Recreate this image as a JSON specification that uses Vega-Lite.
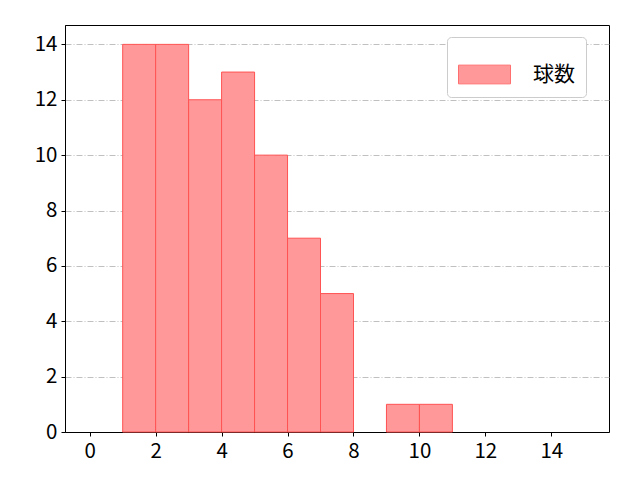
{
  "$schema": "https://vega.github.io/schema/vega-lite/v6.json",
  "width": 544,
  "height": 407,
  "autosize": "none",
  "padding": {"left": 65, "top": 25, "right": 31, "bottom": 48},
  "background": "white",
  "data": {
    "values": [
      {"bin_start": 1, "bin_end": 2, "count": 14, "series": "球数"},
      {"bin_start": 2, "bin_end": 3, "count": 14, "series": "球数"},
      {"bin_start": 3, "bin_end": 4, "count": 12, "series": "球数"},
      {"bin_start": 4, "bin_end": 5, "count": 13, "series": "球数"},
      {"bin_start": 5, "bin_end": 6, "count": 10, "series": "球数"},
      {"bin_start": 6, "bin_end": 7, "count": 7, "series": "球数"},
      {"bin_start": 7, "bin_end": 8, "count": 5, "series": "球数"},
      {"bin_start": 9, "bin_end": 10, "count": 1, "series": "球数"},
      {"bin_start": 10, "bin_end": 11, "count": 1, "series": "球数"}
    ]
  },
  "mark": {"type": "bar", "stroke": "#ff5252", "strokeWidth": 1},
  "encoding": {
    "x": {
      "field": "bin_start",
      "type": "quantitative",
      "title": null,
      "scale": {"domain": [-0.75, 15.75], "nice": false, "zero": false},
      "axis": {"values": [0, 2, 4, 6, 8, 10, 12, 14], "grid": false, "labelPadding": 5}
    },
    "x2": {"field": "bin_end"},
    "y": {
      "field": "count",
      "type": "quantitative",
      "title": null,
      "scale": {"domain": [0, 14.7], "nice": false},
      "axis": {
        "values": [0, 2, 4, 6, 8, 10, 12, 14],
        "grid": true,
        "gridColor": "#b0b0b0",
        "gridDash": [6, 2, 1, 2],
        "gridWidth": 0.8
      }
    },
    "y2": {"datum": 0},
    "color": {
      "field": "series",
      "type": "nominal",
      "scale": {"range": ["#ff9999"]},
      "legend": {
        "title": null,
        "orient": "none",
        "legendX": 382,
        "legendY": 12,
        "symbolType": "M-1,-0.36H1V0.36H-1Z",
        "symbolSize": 2704,
        "symbolStrokeColor": "#ff6f6f",
        "symbolStrokeWidth": 1,
        "symbolOpacity": 1,
        "labelOffset": 22,
        "labelFontSize": 21,
        "labelColor": "black",
        "padding": 11,
        "fillColor": "white",
        "strokeColor": "#cccccc",
        "cornerRadius": 4
      }
    }
  },
  "config": {
    "font": "Noto Sans CJK JP",
    "view": {"stroke": "black", "strokeWidth": 1},
    "axis": {
      "domainColor": "black",
      "tickColor": "black",
      "tickSize": 4,
      "labelFontSize": 20.5,
      "labelColor": "black",
      "labelPadding": 4,
      "labelFlush": false
    },
    "legend": {"labelFont": "Noto Sans CJK JP"}
  }
}
